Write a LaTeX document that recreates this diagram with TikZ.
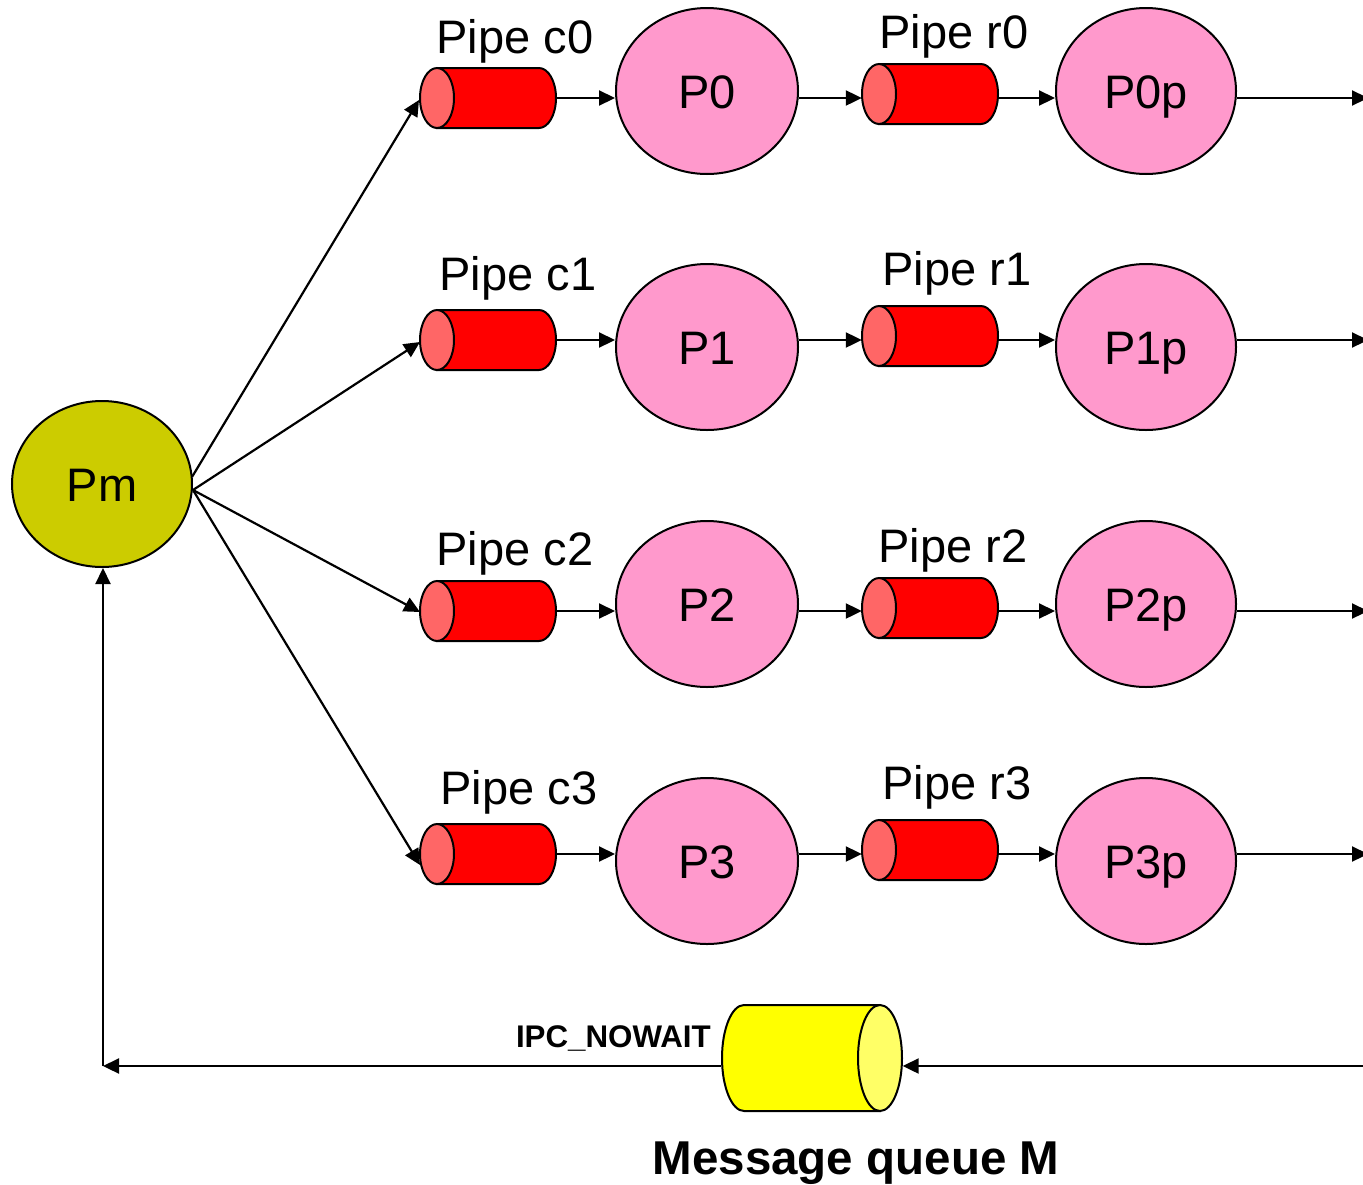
\documentclass[tikz,border=0pt]{standalone}
\usepackage{fontspec}
\setmainfont{Liberation Sans}
\usetikzlibrary{arrows.meta,shapes.geometric}
\definecolor{pipered}{HTML}{FF0000}
\definecolor{pipecap}{HTML}{FF6666}
\definecolor{procpink}{HTML}{FF99CC}
\definecolor{pmolive}{HTML}{CCCC00}
\definecolor{qyellow}{HTML}{FFFF00}
\definecolor{qcap}{HTML}{FFFF66}
\tikzset{
  arr/.style={line width=2.2pt,-{Triangle[length=16pt,width=15pt]}},
  proc/.style={ellipse,draw,line width=2pt,fill=procpink,minimum width=182pt,minimum height=166pt,inner sep=0pt,
    font=\fontsize{47}{56}\selectfont,text height=34pt,text depth=0pt},
  pmnode/.style={proc,fill=pmolive,minimum width=180pt},
  pipebox/.style={rectangle,draw=none,minimum width=136pt,minimum height=60pt,inner sep=0pt},
  qbox/.style={rectangle,draw=none,minimum width=181pt,minimum height=106pt,inner sep=0pt},
  lbl/.style={font=\fontsize{47}{56}\selectfont,inner sep=0pt},
  blbl/.style={font=\bfseries\fontsize{47.5}{56}\selectfont,inner sep=0pt},
  slbl/.style={font=\bfseries\fontsize{31.3}{36}\selectfont,inner sep=0pt},
  shapeline/.style={line width=2pt},
}
\newcommand\mypipe[3]{%
  \node[pipebox] (#1) at (#2,#3) {};
  \begin{scope}[shift={(#2,#3)}]
    \filldraw[shapeline,fill=pipered] (-51,-30) -- (51,-30)
      arc[start angle=90,end angle=-90,x radius=17pt,y radius=30pt] -- (-51,30) -- cycle;
    \filldraw[shapeline,fill=pipecap] (-51,0) ellipse[x radius=17pt,y radius=30pt];
  \end{scope}}
\begin{document}
\begin{tikzpicture}[x=1pt,y=-1pt]
\useasboundingbox (0,0) rectangle (1363,1184);
% Pm
\node[pmnode] (Pm) at (102,484) {Pm};
% pipes c
\mypipe{c0}{488}{98}
\mypipe{c1}{488}{340}
\mypipe{c2}{488}{611}
\mypipe{c3}{488}{854}
% pipes r
\mypipe{r0}{930}{94}
\mypipe{r1}{930}{336}
\mypipe{r2}{930}{608}
\mypipe{r3}{930}{850}
% processes
\node[proc] (P0) at (707,91) {P0};
\node[proc] (P1) at (707,347) {P1};
\node[proc] (P2) at (707,604) {P2};
\node[proc] (P3) at (707,861) {P3};
\node[proc,minimum width=180pt] (P0p) at (1146,91) {P0p};
\node[proc,minimum width=180pt] (P1p) at (1146,347) {P1p};
\node[proc,minimum width=180pt] (P2p) at (1146,604) {P2p};
\node[proc,minimum width=180pt] (P3p) at (1146,861) {P3p};
% labels
\node[lbl,anchor=base] (lc0) at (515,53) {Pipe c0};
\node[lbl,anchor=base] (lr0) at (954,48) {Pipe r0};
\node[lbl,anchor=base] (lc1) at (518,290) {Pipe c1};
\node[lbl,anchor=base] (lr1) at (957,285) {Pipe r1};
\node[lbl,anchor=base] (lc2) at (515,565) {Pipe c2};
\node[lbl,anchor=base] (lr2) at (953,562) {Pipe r2};
\node[lbl,anchor=base] (lc3) at (519,804) {Pipe c3};
\node[lbl,anchor=base] (lr3) at (957,799) {Pipe r3};
% message queue
\node[qbox] (M) at (812,1058) {};
\begin{scope}[shift={(812,1058)}]
  \filldraw[shapeline,fill=qyellow] (68,-53) -- (-68,-53)
    arc[start angle=90,end angle=270,x radius=22pt,y radius=53pt] -- (68,53) -- cycle;
  \filldraw[shapeline,fill=qcap] (68,0) ellipse[x radius=22pt,y radius=53pt];
\end{scope}
\node[slbl,anchor=base east] (ipc) at (711,1047) {IPC\_NOWAIT};
\node[blbl,anchor=base] (mq) at (856,1174) {Message queue M};
% coordinates
\coordinate (pmA) at (192,477);
\coordinate (pmB) at (193,490);
\coordinate (c0in) at (419,100);
\coordinate (c1in) at (420,342);
\coordinate (c2in) at (420,612);
\coordinate (c3in) at (420,865);
\coordinate (o0) at (1368,98);
\coordinate (o1) at (1368,340);
\coordinate (o2) at (1368,611);
\coordinate (o3) at (1368,854);
\coordinate (qin) at (1366,1066);
\coordinate (corner) at (103,1066);
% Pm fan-out
\draw[arr] (pmA) -- (c0in);
\draw[arr] (pmB) -- (c1in);
\draw[arr] (pmB) -- (c2in);
\draw[arr] (pmB) -- (c3in);
% rows
\foreach \i in {0,1,2,3}{
  \draw[arr] (c\i.east) -- (c\i.east -| P\i.west);
  \draw[arr] (P\i.east |- c\i.east) -- (r\i.west |- c\i.east);
  \draw[arr] (r\i.east |- c\i.east) -- (P\i p.west |- c\i.east);
  \draw[arr] (P\i p.east |- c\i.east) -- (o\i);
}
% feedback
\draw[arr] (qin) -- (qin -| M.east);
\draw[arr] (qin -| M.west) -- (corner);
\draw[arr] (corner) -- (corner |- Pm.south);
\end{tikzpicture}
\end{document}
